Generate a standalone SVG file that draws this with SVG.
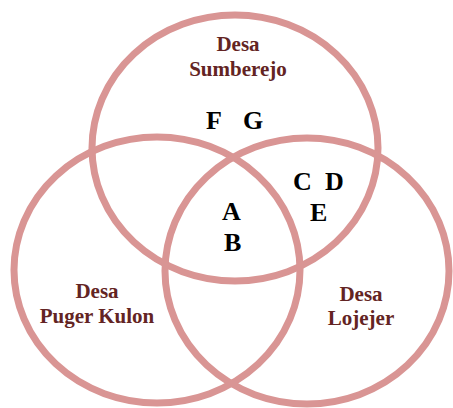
<svg xmlns="http://www.w3.org/2000/svg" width="453" height="408" viewBox="0 0 453 408">
<style>
.ring{fill:none;stroke:#d99594;stroke-width:7}
.lbl{font-family:"Liberation Serif","Times New Roman",serif;font-weight:bold;font-size:21px;fill:#632423;text-anchor:middle}
.let{font-family:"Liberation Serif","Times New Roman",serif;font-weight:bold;font-size:26px;fill:#000}
</style>
<rect width="453" height="408" fill="#fff"/>
<g id="sumberejo">
<ellipse class="ring" cx="235" cy="148" rx="143" ry="133"/>
<text class="lbl" x="238" y="51">Desa</text>
<text class="lbl" x="238" y="76">Sumberejo</text>
</g>
<g id="puger-kulon">
<ellipse class="ring" cx="157" cy="270" rx="143" ry="133"/>
<text class="lbl" x="97" y="298">Desa</text>
<text class="lbl" x="97" y="323">Puger Kulon</text>
</g>
<g id="lojejer">
<ellipse class="ring" cx="307" cy="271" rx="142" ry="133"/>
<text class="lbl" x="361" y="301">Desa</text>
<text class="lbl" x="361" y="325">Lojejer</text>
</g>
<g id="members">
<text class="let" x="206" y="129">F</text>
<text class="let" x="243" y="129">G</text>
<text class="let" x="293" y="190">C</text>
<text class="let" x="325" y="190">D</text>
<text class="let" x="310" y="221">E</text>
<text class="let" x="222" y="220">A</text>
<text class="let" x="224" y="251">B</text>
</g>
<g id="connectors"></g>
</svg>
